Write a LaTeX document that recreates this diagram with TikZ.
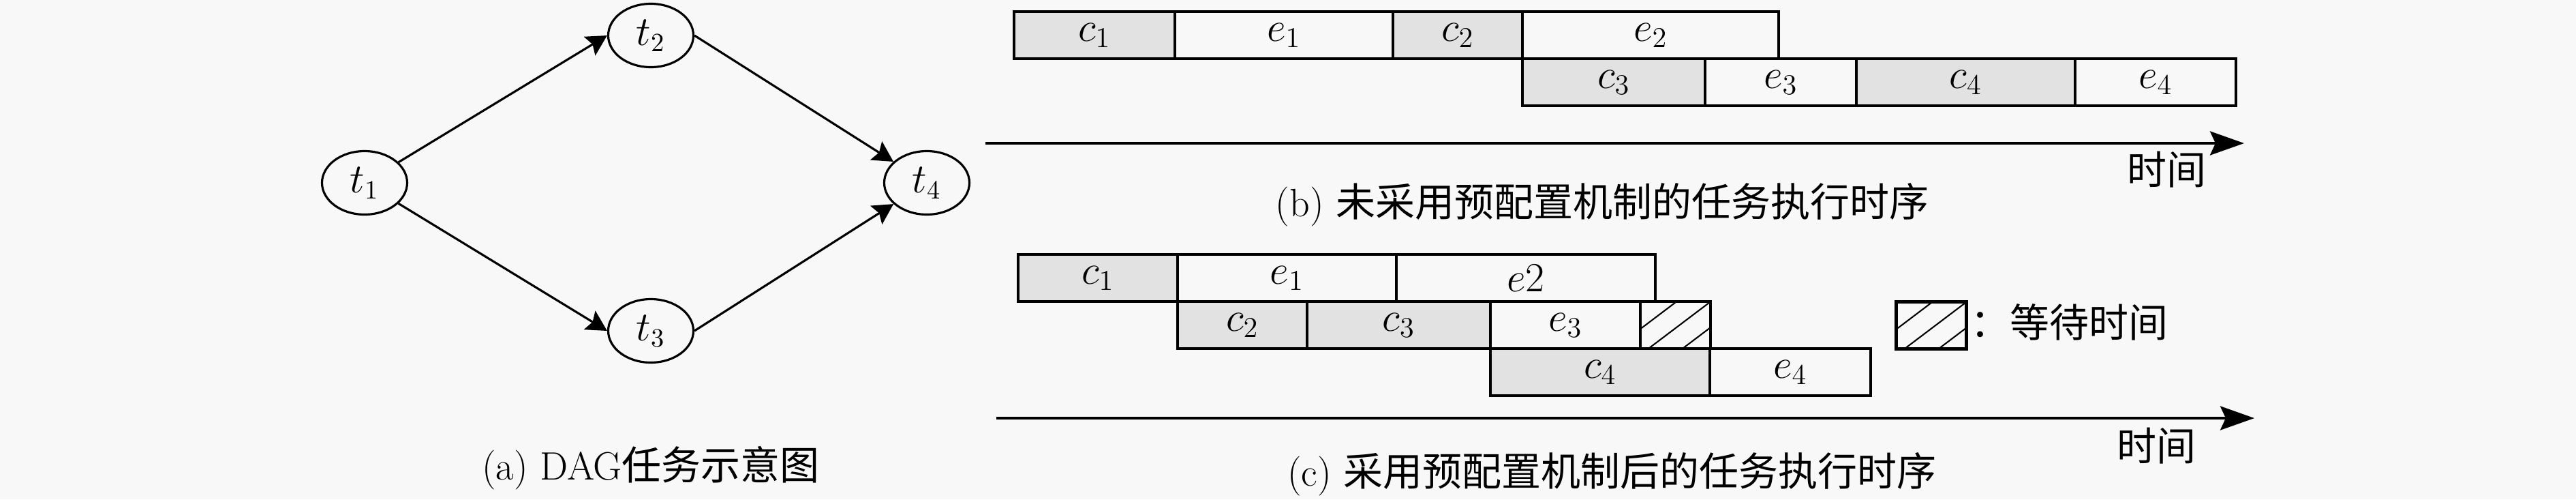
\documentclass[tikz,border=0pt]{standalone}
\usepackage{amsmath}
\usepackage{fontspec}
\newfontfamily\cjk{Noto Sans CJK SC}
\usetikzlibrary{positioning,shapes.geometric,arrows.meta}
\definecolor{bggray}{HTML}{F8F8F8}
\definecolor{cgray}{HTML}{E2E2E2}

\begin{document}
\begin{tikzpicture}[
task/.style={ellipse, draw=black, line width=0.9pt, minimum width=1.25cm, minimum height=0.93cm, inner sep=0pt, font=\fontsize{16}{19}\selectfont},
blk/.style={rectangle, draw=black, line width=1.3pt, minimum height=0.69cm, inner sep=0pt, outer sep=0pt, font=\fontsize{16.5}{19}\selectfont},
cblk/.style={blk, fill=cgray},
eblk/.style={blk},
waitblk/.style={blk, minimum width=1.03cm, path picture={
  \foreach \off in {-0.5,0,0.5}
    \draw[line width=0.6pt] ([xshift={(\off+0.12)*1cm}]path picture bounding box.south west) -- ++(0.9,0.68);
}},
dep/.style={-{Stealth[length=3mm, width=3.2mm, inset=0.5mm]}, line width=0.9pt},
timeaxis/.style={-{Stealth[length=5mm, width=3.5mm, inset=0.8mm]}, line width=1.1pt},
captext/.style={font=\fontsize{16.5}{19}\selectfont, inner sep=0pt}
]
\useasboundingbox (0,0) rectangle (37.8,7.32);
\fill[bggray] (0,0) rectangle (37.8,7.32);

%Nodes
\node[task]      (t1)     at (5.35,4.64)                                {$t_1$};
\node[task]      (t2)     [on grid, above right=2.16cm and 4.2cm of t1] {$t_2$};
\node[task]      (t3)     [on grid, below right=2.17cm and 4.2cm of t1] {$t_3$};
\node[task]      (t4)     [on grid, right=8.25cm of t1]                 {$t_4$};
\node[captext, anchor=base] (capa) at (9.55,0.29) {(a) DAG{\cjk 任务示意图}};

%Schedule b
\node[cblk, minimum width=2.36cm, anchor=north west] (bc1) at (14.88,7.15) {$c_1$};
\node[eblk, minimum width=3.20cm] (be1) [right=0pt of bc1] {$e_1$};
\node[cblk, minimum width=1.90cm] (bc2) [right=0pt of be1] {$c_2$};
\node[eblk, minimum width=3.76cm] (be2) [right=0pt of bc2] {$e_2$};
\node[cblk, minimum width=2.68cm] (bc3) [below right=0pt of be2.south west] {$c_3$};
\node[eblk, minimum width=2.22cm] (be3) [right=0pt of bc3] {$e_3$};
\node[cblk, minimum width=3.21cm] (bc4) [right=0pt of be3] {$c_4$};
\node[eblk, minimum width=2.36cm] (be4) [right=0pt of bc4] {$e_4$};
\coordinate (bo) at (14.46,5.22);
\coordinate (bx) at (32.93,5.22);
\node[captext, anchor=base] (btime) at (31.79,4.62) {\cjk 时间};
\node[captext, anchor=base] (capb) at (23.51,4.15) {(b) {\cjk 未采用预配置机制的任务执行时序}};

%Schedule c
\node[cblk, minimum width=2.34cm, anchor=north west] (cc1) at (14.94,3.59) {$c_1$};
\node[eblk, minimum width=3.21cm] (ce1) [right=0pt of cc1] {$e_1$};
\node[eblk, minimum width=3.80cm] (ce2) [right=0pt of ce1] {$e2$};
\node[cblk, minimum width=1.90cm] (cc2) [below right=0pt of ce1.south west] {$c_2$};
\node[cblk, minimum width=2.69cm] (cc3) [right=0pt of cc2] {$c_3$};
\node[eblk, minimum width=2.20cm] (ce3) [right=0pt of cc3] {$e_3$};
\node[waitblk] (cw) [right=0pt of ce3] {};
\node[cblk, minimum width=3.22cm] (cc4) [below right=0pt of ce3.south west] {$c_4$};
\node[eblk, minimum width=2.36cm] (ce4) [right=0pt of cc4] {$e_4$};
\node[waitblk] (legend) at (28.34,2.55) {};
\node[captext, anchor=base west] (legendtxt) at (28.91,2.38) {\cjk ：等待时间};
\coordinate (co) at (14.62,1.19);
\coordinate (cx) at (33.08,1.19);
\node[captext, anchor=base] (ctime) at (31.64,0.57) {\cjk 时间};
\node[captext, anchor=base] (capc) at (23.65,0.20) {(c) {\cjk 采用预配置机制后的任务执行时序}};

%Lines
\draw[dep] (t1) -- (t2.west);
\draw[dep] (t1) -- (t3.west);
\draw[dep] (t2.east) -- (t4);
\draw[dep] (t3.east) -- (t4);
\draw[timeaxis] (bo) -- (bx);
\draw[timeaxis] (co) -- (cx);
\end{tikzpicture}
\end{document}
